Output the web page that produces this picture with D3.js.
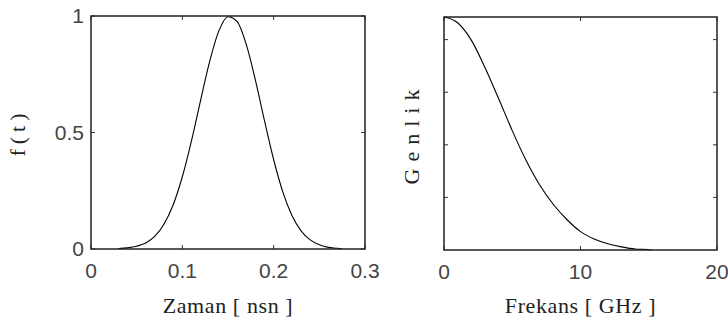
<!DOCTYPE html>
<html>
<head>
<meta charset="utf-8">
<script src="https://cdn.jsdelivr.net/npm/d3@7"></script>
<style>
  body { margin: 0; background: #fff; }
  .tick-label { font-family: "Liberation Sans", Arial, sans-serif; font-size: 21px; fill: #444; }
  .axis-title { font-family: "Liberation Serif", "Times New Roman", serif; font-size: 22px; fill: #222; }
</style>
</head>
<body>
<div id="chart"></div>
<script>
// DATA ---------------------------------------------------------------
// time pulse f(t), t in ns
const zamanValues = [0.03, 0.04, 0.05, 0.06, 0.07, 0.08, 0.09, 0.10, 0.11, 0.12, 0.13, 0.14, 0.15, 0.16,
                     0.17, 0.18, 0.19, 0.20, 0.21, 0.22, 0.23, 0.24, 0.25, 0.26, 0.27, 0.275]
const ftValues    = [0.002, 0.005, 0.012, 0.026, 0.055, 0.107, 0.19, 0.31, 0.464, 0.638, 0.806, 0.936, 0.997, 0.976,
                     0.878, 0.725, 0.55, 0.383, 0.245, 0.144, 0.078, 0.039, 0.018, 0.007, 0.003, 0]
// spectrum amplitude, f in GHz
const frekansValues = [0, 1, 2, 3, 4, 5, 6, 7, 8, 9, 10, 11, 12, 13, 14, 15, 15.2]
const genlikValues  = [4.43, 4.32, 3.99, 3.47, 2.88, 2.27, 1.71, 1.24, 0.87, 0.58, 0.35, 0.21, 0.12, 0.06, 0.02, 0.01, 0]

const zamanTicks   = [0, 0.1, 0.2, 0.3]
const ftTicks      = [0, 0.5, 1]
const frekansTicks = [0, 10, 20]
const genlikTicks  = [1, 2, 3, 4]

// LAYOUT -------------------------------------------------------------
const width = 728, height = 323
const svg = d3.select("#chart").append("svg")
  .attr("width", width)
  .attr("height", height)

const tickLen = 4

function drawPanel(opts) {
  const { x0, x1, y0, y1, xDomain, yDomain, xTicks, yTicks, xs, ys, xLabel, yLabel, yLabelX, yLabelSpacing, showYLabels } = opts
  const x = d3.scaleLinear().domain(xDomain).range([x0, x1])
  const y = d3.scaleLinear().domain(yDomain).range([y1, y0])
  const g = svg.append("g")

  // curve
  const pts = xs.map((d, i) => [d, ys[i]])
  g.append("path")
    .datum(pts)
    .attr("fill", "none")
    .attr("stroke", "#000")
    .attr("stroke-width", 1.1)
    .attr("d", d3.line().x(d => x(d[0])).y(d => y(d[1])).curve(d3.curveMonotoneX))

  // inward ticks on all four sides (matlab style)
  const inner = g.append("g").attr("stroke", "#333").attr("stroke-width", 1)
  xTicks.forEach(t => {
    inner.append("line").attr("x1", x(t)).attr("x2", x(t)).attr("y1", y1).attr("y2", y1 - tickLen)
    inner.append("line").attr("x1", x(t)).attr("x2", x(t)).attr("y1", y0).attr("y2", y0 + tickLen)
  })
  yTicks.forEach(t => {
    inner.append("line").attr("x1", x0).attr("x2", x0 + tickLen).attr("y1", y(t)).attr("y2", y(t))
    inner.append("line").attr("x1", x1).attr("x2", x1 - tickLen).attr("y1", y(t)).attr("y2", y(t))
  })

  // frame
  g.append("rect")
    .attr("x", x0).attr("y", y0)
    .attr("width", x1 - x0).attr("height", y1 - y0)
    .attr("fill", "none")
    .attr("stroke", "#222")
    .attr("stroke-width", 1.5)

  // tick labels
  g.selectAll(".xl").data(xTicks).enter().append("text")
    .attr("class", "tick-label")
    .attr("x", d => x(d))
    .attr("y", y1 + 29)
    .attr("text-anchor", "middle")
    .text(d => d)

  if (showYLabels) {
    g.selectAll(".yl").data(yTicks).enter().append("text")
      .attr("class", "tick-label")
      .attr("x", x0 - 7)
      .attr("y", d => y(d) + 7)
      .attr("text-anchor", "end")
      .text(d => d)
  }

  // axis titles
  g.append("text")
    .attr("class", "axis-title")
    .attr("x", (x0 + x1) / 2)
    .attr("y", 313)
    .attr("text-anchor", "middle")
    .style("letter-spacing", "0.6px")
    .text(xLabel)

  g.append("text")
    .attr("class", "axis-title")
    .attr("transform", `translate(${yLabelX},${(y0 + y1) / 2}) rotate(-90)`)
    .attr("text-anchor", "middle")
    .style("letter-spacing", yLabelSpacing + "px")
    .text(yLabel)
}

drawPanel({
  x0: 91, x1: 365, y0: 16, y1: 249,
  xDomain: [0, 0.3], yDomain: [0, 1],
  xTicks: zamanTicks, yTicks: ftTicks,
  xs: zamanValues, ys: ftValues,
  xLabel: "Zaman [ nsn ]", yLabel: "f(t)",
  yLabelX: 25, yLabelSpacing: 5, showYLabels: true
})

drawPanel({
  x0: 444, x1: 717, y0: 17, y1: 250,
  xDomain: [0, 20], yDomain: [0, 4.43],
  xTicks: frekansTicks, yTicks: genlikTicks,
  xs: frekansValues, ys: genlikValues,
  xLabel: "Frekans [ GHz ]", yLabel: "Genlik",
  yLabelX: 419, yLabelSpacing: 7, showYLabels: false
})
</script>
</body>
</html>
